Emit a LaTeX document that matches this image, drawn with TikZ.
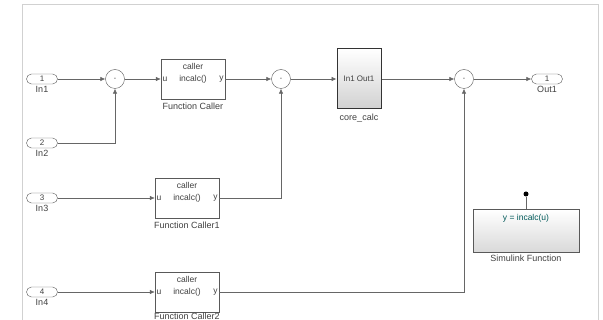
\documentclass[tikz,border=0pt]{standalone}
\usepackage{fontspec}
\setmainfont{Liberation Sans}
\usetikzlibrary{arrows.meta}

\begin{document}
\begin{tikzpicture}[
			x=1pt, y=-1pt,
			font=\fontsize{8.5}{9}\selectfont,
			every node/.style={align=center, text=black!75},
			every label/.style={inner sep=1.5pt, font=\fontsize{9}{9}\selectfont, text=black!75},
			wire/.style={draw=black!60, line width=0.6pt},
			sig/.style={wire, -{Latex[length=5pt,width=4.5pt]}},
			port/.style={rectangle, rounded corners=5pt, draw=black!65, fill=white,
				minimum width=31pt, minimum height=10pt, inner sep=0pt, font=\fontsize{8}{8}\selectfont},
			sumblk/.style={circle, draw=black!65, fill=white, minimum size=19pt,
				inner sep=0pt, font=\fontsize{7}{7}\selectfont},
			callerbox/.style={rectangle, draw=black!65, fill=white, minimum width=64pt,
				minimum height=40pt, inner sep=0pt},
			boxtext/.style={inner sep=1.5pt, font=\fontsize{8.5}{9}\selectfont},
			subsys/.style={rectangle, draw=black!80, line width=1pt, top color=white,
				bottom color=black!18, minimum width=44pt, minimum height=60pt, inner sep=0pt,
				font=\fontsize{8}{8}\selectfont},
			funcbox/.style={rectangle, draw=black!65, top color=white, bottom color=black!15,
				minimum width=106pt, minimum height=43pt, inner sep=0pt},
			]
			\useasboundingbox (0,0) rectangle (603,320);
			\draw[black!18, line width=1pt] (22,320) -- (22,5) -- (598,5) -- (598,320);
			
			% inports
			\node[port, label=below:In1] (in1) at (42,79) {1};
			\node[port, label=below:In2] (in2) at (42,143) {2};
			\node[port, label=below:In3] (in3) at (42,198) {3};
			\node[port, label=below:In4] (in4) at (42,292) {4};
			
			% top row
			\node[sumblk] (sum1) at (115,79) {-};
			\node[callerbox, label={[label distance=2pt]below:Function Caller}] (fc) at (193,79) {};
			\node[sumblk] (sum2) at (281,79) {-};
			\node[subsys, label={[label distance=3pt]below:core\_calc}] (core) at (359,79) {In1 Out1};
			\node[sumblk] (sum3) at (464,79) {-};
			\node[port, label=below:Out1] (out1) at (547,79) {1};
			
			% callers below
			\node[callerbox, label={[label distance=2pt]below:Function Caller1}] (fc1) at (187,198) {};
			\node[callerbox, label={[inner sep=0.5pt]below:Function Caller2}] (fc2) at (187,292) {};
			
			\foreach \b in {fc,fc1,fc2} {
				\node[boxtext] at ([yshift=-8pt]\b.north) {caller};
				\node[boxtext, anchor=west] at (\b.west) {u};
				\node[boxtext, anchor=east] at (\b.east) {y};
				\node[boxtext] at (\b.center) {incalc()};
			}
			
			% simulink function
			\node[funcbox, label={[label distance=1pt]below:Simulink Function}] (sfn) at (526,231) {};
			\node[boxtext, text=teal!70!black] at ([yshift=-9pt]sfn.north) {y = incalc(u)};
			\node[circle, fill=black, inner sep=0pt, minimum size=5pt] (trig) at (526,194) {};
			\draw[wire] (trig) -- (sfn.north);
			
			% signals
			\draw[sig] (in1) -- (sum1);
			\draw[sig] (in2) -| (sum1);
			\draw[sig] (sum1) -- (fc);
			\draw[sig] (fc) -- (sum2);
			\draw[sig] (in3) -- (fc1);
			\draw[sig] (fc1) -| (sum2);
			\draw[sig] (sum2) -- (core);
			\draw[sig] (core) -- (sum3);
			\draw[sig] (in4) -- (fc2);
			\draw[sig] (fc2) -| (sum3);
			\draw[sig] (sum3) -- (out1);
			
		\end{tikzpicture}
\end{document}
